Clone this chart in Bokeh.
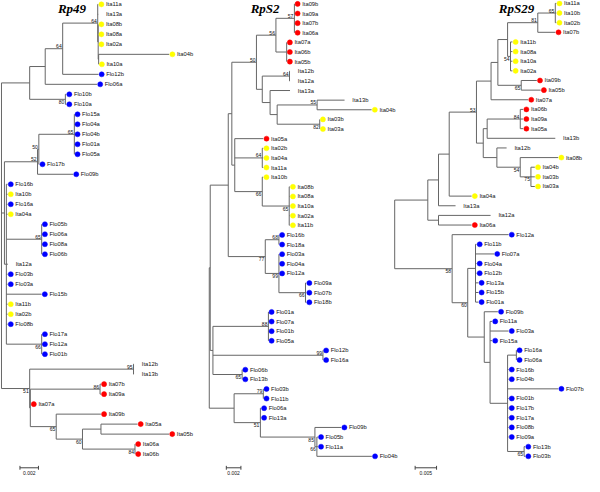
from bokeh.plotting import figure
from bokeh.models import Range1d
from bokeh.embed import file_html
from bokeh.resources import INLINE
from bokeh.core.properties import value

# ---------------- data ----------------
# branch lengths are given in units of 1e-4 substitutions per site
LENGTH_UNIT = 1e-4
TITLES = ["Rp49", "RpS2", "RpS29"]

NEWICK_RP49 = ("(((((Ita11a:0.5,Ita13a:0.5,(Ita08b:0,Ita08a:0,Ita02a:0,(Ita04b:76.3,Ita10a:0):0.5):0.5)64:37.9,"
               "Flo12b:38.7)64:18.9,Flo06a:56.0):16.8,(Flo10b:0.8,Flo10a:0.8)80:38.6):30.5,"
               "((((Flo15a:0,Flo04a:0,Flo04b:0,Flo01a:0,Flo05a:0)65:38.4,Flo17b:0.5)50:1.4,Flo09b:38.4)52:35.8,"
               "(Flo16b:1.3,Ita10b:1.3,Flo16a:1.3,Ita04a:1.3,(Flo05b:0,Flo06a:0,Flo08a:0,Flo06b:0)65:38.2,"
               "Ita12a:1.6,Flo03b:1.3,Flo03a:1.3,Flo15b:38.1,Ita11b:1.3,Ita02b:1.3,Flo08b:1.3,"
               "(Flo17a:0,Flo12a:0,Flo01b:0)66:38.2):2.1):3.2,"
               "((Ita12b:0.5,Ita13b:0.5)95:112.3,((Ita07b:0.9,Ita09a:0.9)86:75.4,Ita07a:0.3,"
               "(Ita09b:48.3,((Ita05a:39.5,Ita05b:73.6):20.0,(Ita06a:0,Ita06b:0)84:56.8)60:28.4)65:28.0):0.7)51:30.5);")

NEWICK_RPS2 = ("(((((((Ita09b:0,Ita09a:0,Ita07b:0,Ita06a:0)57:25.3,(Ita07a:0,Ita06b:0,Ita05b:0):14.7)56:26.7,"
               "((Ita12b:0.7,Ita12a:0.7)64:37.3,(Ita13a:27.3,((Ita13b:37.6,Ita04b:74.7)55:54.7,"
               "(Ita03b:0,Ita03a:0)82:58.3):9.7):10.7):8.0)50:33.7,"
               "(Ita05a:39.1,(Ita02b:1.3,Ita04a:1.3,Ita11a:1.3)64:37.7,"
               "(Ita10b:1.3,(Ita08b:0.7,Ita08a:0.7,Ita10a:0.7,Ita02a:0.7,Ita11b:0.7)65:36.9)66:37.7):4.0):4.9,"
               "((Flo16b:0,Flo18a:0)68:18.7,(Flo03a:0,Flo04a:0,Flo12a:0,(Flo09a:0.9,Flo07b:0.9,Flo18b:0.9)66:36.4)99:18.7)77:50.7):24.7,"
               "((Flo01a:0,Flo07a:0,Flo01b:0,Flo05a:0)88:76.0,(Flo12b:0,Flo16a:0)99:150.7,(Flo06b:0,Flo13b:0)65:40.0):3.7):1.3,"
               "((Flo03b:0,Flo11b:0)79:40.0,(Flo06a:0.7,Flo13a:0.7,(Flo09b:36.0,"
               "(Flo05b:1.3,Flo11a:1.3,Flo04b:75.3)66:2.7)85:74.7)51:36.0):34.0);")

NEWICK_RPS29 = ("((((((((((Ita11a:2.3,Ita10b:2.3,Ita02b:2.3)65:40.9,Ita07b:40.9)81:70.5,"
                "(Ita11b:4.5,Ita08a:4.5,Ita10a:4.5,Ita02a:4.5)54:6.8):22.7,(Ita09b:36.4,Ita05b:45.5)65:54.5):15.9,"
                "Ita07a:86.4):34.1,(((Ita06b:6.8,Ita09a:6.8,Ita05a:6.8)84:77.3,Ita13b:159.1):9.1,"
                "(Ita12b:22.7,(Ita08b:88.6,(Ita04b:9.1,Ita03b:9.1,Ita03a:9.1)75:25.0)54:54.5):31.8):15.9)53:63.6,"
                "Ita04a:52.3):25.0,Ita13a:39.8):25.0,(Ita12a:121.6,Ita06a:77.3):25.0):77.3,"
                "(Flo12a:131.8,((Flo11b:2.3,Flo07a:43.2,Flo04a:2.3,Flo12b:2.3,(Flo13a:6.8,Flo15b:6.8,Flo01a:6.8):0):18.2,"
                "(Flo09b:31.8,(Flo11a:4.5,Flo03a:43.2,Flo15a:4.5,((Flo16a:0,Flo06a:0):20.5,Flo16b:2.3,Flo04b:2.3,"
                "Flo07b:118.2,Flo01b:2.3,Flo17b:2.3,Flo17a:2.3,Flo08b:2.3,Flo09a:2.3,(Flo13b:2.3,Flo03b:2.3)65:38.6):40.9):13.6):38.6)60:36.4)58:134.1);")

NEWICKS = [NEWICK_RP49, NEWICK_RPS2, NEWICK_RPS29]
SCALE_BARS = [0.002, 0.002, 0.005]
SCALE_LABELS = ["0.002", "0.002", "0.005"]

RED_GROUP = ["Ita05a", "Ita05b", "Ita06a", "Ita06b", "Ita07a", "Ita07b", "Ita09a", "Ita09b"]
UNMARKED = ["Ita12a", "Ita12b", "Ita13a", "Ita13b"]
BLUE = "#0000ff"
RED = "#ff0000"
YELLOW = "#ffff00"
LINE = "#666666"

# ---------------- layout (reference pixel frame 600x492) ----------------
REF_W, REF_H = 600, 492
WIDTH, HEIGHT = 584, 476
KX = WIDTH / REF_W
PANELS = [
    dict(root=1.0, y0=4.0, dy=10.33, bar_x=20, title_x=59),
    dict(root=214.5, y0=3.5, dy=9.95, bar_x=232, title_x=257),
    dict(root=405.0, y0=3.0, dy=9.96, bar_x=426, title_x=512),
]
BAR_PX = [19, 15, 22]   # length of each scale bar in the reference frame


def parse_newick(s):
    pos = 0

    def node():
        nonlocal pos
        n = {"children": [], "name": "", "length": 0.0}
        if s[pos] == "(":
            pos += 1
            while True:
                n["children"].append(node())
                if s[pos] == ",":
                    pos += 1
                else:
                    pos += 1
                    break
        start = pos
        while s[pos] not in ",():;":
            pos += 1
        n["name"] = s[start:pos]
        if s[pos] == ":":
            pos += 1
            start = pos
            while s[pos] not in ",();":
                pos += 1
            n["length"] = float(s[start:pos])
        return n

    return node()


def place(n, px, counter):
    n["x"] = px + n["length"]
    if n["children"]:
        for c in n["children"]:
            place(c, n["x"], counter)
        n["y"] = (n["children"][0]["y"] + n["children"][-1]["y"]) / 2.0
    else:
        n["y"] = counter[0]
        counter[0] += 1


def leaf_color(name):
    if name.startswith("Flo"):
        return BLUE
    if name in RED_GROUP:
        return RED
    if name in UNMARKED:
        return None
    return YELLOW


# one scale per tree: x in 1e-4 subst./site, y in leaf rows
xr, yr, ppus = {}, {}, []
for i, pan in enumerate(PANELS):
    ppu = BAR_PX[i] / (SCALE_BARS[i] / LENGTH_UNIT)
    ppus.append(ppu)
    xr["t%d" % i] = Range1d((0 - pan["root"]) / ppu, (REF_W - pan["root"]) / ppu)
    yr["t%d" % i] = Range1d((REF_H - pan["y0"]) / pan["dy"], (0 - pan["y0"]) / pan["dy"])

p = figure(width=WIDTH, height=HEIGHT, x_range=xr["t0"], y_range=yr["t0"],
           extra_x_ranges={"t1": xr["t1"], "t2": xr["t2"]},
           extra_y_ranges={"t1": yr["t1"], "t2": yr["t2"]},
           output_backend="svg", toolbar_location=None, min_border=0)
p.axis.visible = False
p.grid.visible = False
p.outline_line_color = None
p.background_fill_color = "white"
p.border_fill_color = "white"

FONT = value("Liberation Sans")

for i, (nwk, pan) in enumerate(zip(NEWICKS, PANELS)):
    rn = dict(x_range_name="t%d" % i, y_range_name="t%d" % i) if i else {}
    ppu = ppus[i]
    tree = parse_newick(nwk)
    place(tree, 0.0, [0])

    sx0, sy0, sx1, sy1 = [], [], [], []
    lx, ly, lt = [], [], []
    dx, dy_, dc = [], [], []
    ax, ay, at = [], [], []
    bx, by, bt = [], [], []

    def walk(n, parent):
        if parent is not None:
            sx0.append(parent["x"]); sy0.append(n["y"]); sx1.append(n["x"]); sy1.append(n["y"])
        if n["children"]:
            sx0.append(n["x"]); sy0.append(n["children"][0]["y"])
            sx1.append(n["x"]); sy1.append(n["children"][-1]["y"])
            if n["name"] and parent is not None:
                if parent["children"][-1] is n:
                    bx.append(n["x"]); by.append(n["y"]); bt.append(n["name"])
                else:
                    ax.append(n["x"]); ay.append(n["y"]); at.append(n["name"])
            for c in n["children"]:
                walk(c, n)
        else:
            lx.append(n["x"]); ly.append(n["y"]); lt.append(n["name"])
            col = leaf_color(n["name"])
            if col:
                dx.append(n["x"] + 3.3 / ppu); dy_.append(n["y"]); dc.append(col)

    walk(tree, None)

    p.segment(x0=sx0, y0=sy0, x1=sx1, y1=sy1, line_color=LINE, line_width=1, **rn)
    p.scatter(x=dx, y=dy_, size=5.2 * KX, fill_color=dc, line_color=dc, line_width=0.5, **rn)
    p.text(x=lx, y=ly, text=lt, x_offset=8.0 * KX, text_baseline="middle", text_align="left",
           text_font=FONT, text_font_size="5.8px", text_color="#111111", **rn)
    p.text(x=ax, y=ay, text=at, x_offset=-1, y_offset=-0.5, text_baseline="bottom", text_align="right",
           text_font=FONT, text_font_size="5px", text_color="#111111", **rn)
    p.text(x=bx, y=by, text=bt, x_offset=-1, y_offset=0.5, text_baseline="top", text_align="right",
           text_font=FONT, text_font_size="5px", text_color="#111111", **rn)

    # title
    p.text(x=[(pan["title_x"] - pan["root"]) / ppu], y=[(8.5 - pan["y0"]) / pan["dy"]], text=[TITLES[i]],
           text_baseline="middle", text_align="left", text_font=value("Liberation Serif"),
           text_font_style="bold italic", text_font_size="13px", text_color="#000000", **rn)

    # scale bar
    bar_start = (pan["bar_x"] - pan["root"]) / ppu
    bar_len = SCALE_BARS[i] / LENGTH_UNIT
    bar_y = (483 - pan["y0"]) / pan["dy"]
    tick = 2.0 / pan["dy"]
    p.segment(x0=[bar_start, bar_start, bar_start + bar_len], y0=[bar_y, bar_y - tick, bar_y - tick],
              x1=[bar_start + bar_len, bar_start, bar_start + bar_len], y1=[bar_y, bar_y + tick, bar_y + tick],
              line_color="#444444", line_width=1, **rn)
    p.text(x=[bar_start + bar_len / 2], y=[(488 - pan["y0"]) / pan["dy"]], text=[SCALE_LABELS[i]],
           text_baseline="middle", text_align="center", text_font=FONT, text_font_size="5px",
           text_color="#111111", **rn)

open("out.html", "w").write(file_html(p, INLINE))
